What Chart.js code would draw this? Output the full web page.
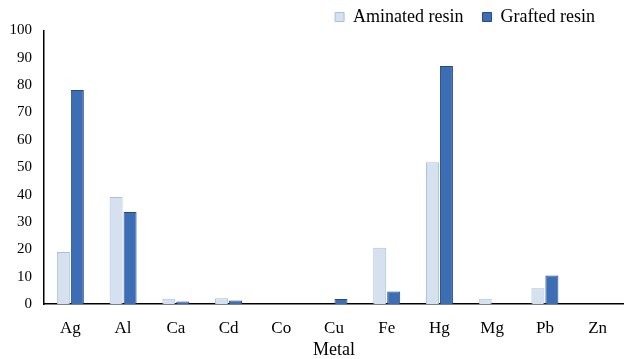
<!DOCTYPE html>
<html>
<head>
<meta charset="utf-8">
<script src="https://cdn.jsdelivr.net/npm/chart.js@4.4.1/dist/chart.umd.min.js"></script>
<style>
    html, body { margin: 0; padding: 0; background: #fff; }
    #wrap { width: 624px; height: 359px; }
</style>
</head>
<body>
<div id="wrap"><canvas id="metalChart"></canvas></div>
<script>
const metals = ['Ag', 'Al', 'Ca', 'Cd', 'Co', 'Cu', 'Fe', 'Hg', 'Mg', 'Pb', 'Zn'];
const aminated = [19, 39.1, 1.9, 2.1, 0, 0, 20.6, 51.8, 1.9, 5.8, 0];
const grafted = [78.2, 33.6, 0.9, 1.3, 0, 1.8, 4.6, 87, 0, 10.4, 0];
const yTicks = [0, 10, 20, 30, 40, 50, 60, 70, 80, 90, 100];

// legend sits in the top margin, a little in from the right edge
const legendTweak = {
    id: 'legendTweak',
    afterInit(chart) {
        const lg = chart.legend;
        const fit = lg.fit.bind(lg);
        lg.fit = function() { fit(); this.height = 41.5; };
    },
    afterLayout(chart) {
        chart.legend.left -= 10;
        chart.legend.right -= 10;
    }
};

function initMetalChart() {
    const ctx = document.getElementById('metalChart').getContext('2d');
    const serif = 'Liberation Serif';
    new Chart(ctx, {
        type: 'bar',
        data: {
            labels: metals,
            datasets: [
                {
                    label: 'Aminated resin',
                    data: aminated,
                    backgroundColor: '#d6e1f0',
                    borderColor: '#a9c0df',
                    borderWidth: 1
                },
                {
                    label: 'Grafted resin',
                    data: grafted,
                    backgroundColor: '#3d6eb5',
                    borderColor: '#244a82',
                    borderWidth: 1
                }
            ]
        },
        options: {
            responsive: true,
            maintainAspectRatio: false,
            animation: false,
            layout: { padding: { left: 5.5, right: 0, top: -11, bottom: -2 } },
            datasets: { bar: { categoryPercentage: 0.53, barPercentage: 0.93 } },
            plugins: {
                legend: {
                    position: 'top',
                    align: 'end',
                    labels: {
                        boxWidth: 9,
                        boxHeight: 9,
                        color: '#000',
                        padding: 19,
                        font: { family: serif, size: 18 }
                    }
                },
                tooltip: { enabled: false }
            },
            scales: {
                x: {
                    grid: { display: false, tickLength: 14 },
                    border: { display: true, color: '#000', width: 1.5 },
                    ticks: { color: '#000', padding: 0, font: { family: serif, size: 17 } },
                    title: { display: true, text: 'Metal', color: '#000', padding: { top: 1, bottom: 0 }, font: { family: serif, size: 18 } }
                },
                y: {
                    min: 0,
                    max: 100,
                    afterBuildTicks: axis => { axis.ticks = yTicks.map(v => ({ value: v })); },
                    grid: { display: false, tickLength: 8 },
                    border: { display: true, color: '#000', width: 1.5 },
                    ticks: { color: '#000', padding: 4, font: { family: serif, size: 15 } }
                }
            }
        },
        plugins: [legendTweak]
    });
}

document.addEventListener('DOMContentLoaded', initMetalChart);
</script>
</body>
</html>
